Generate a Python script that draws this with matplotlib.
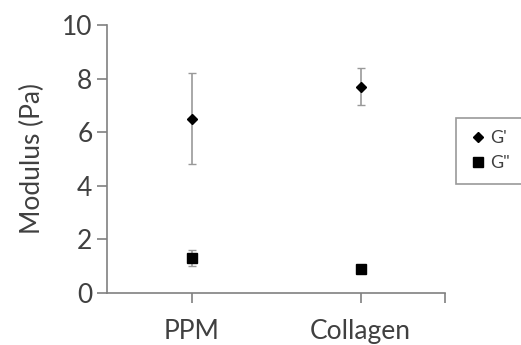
import matplotlib.pyplot as plt

categories = ["PPM", "Collagen"]
g_prime = [6.5, 7.7]
g_prime_err = [1.7, 0.7]
g_dprime = [1.3, 0.9]
g_dprime_err = [0.3, 0.1]

plt.rcParams['font.family'] = ['Lato', 'DejaVu Sans']

fig = plt.figure(figsize=(5.21, 3.45), dpi=100)
ax = fig.add_axes([107 / 521, 1 - 293 / 345, (445 - 107) / 521, (293 - 25) / 345])

x = [1, 2]
ax.errorbar(x, g_prime, yerr=g_prime_err, fmt='none', ecolor='#999999',
            elinewidth=1.2, capsize=3, capthick=1)
ax.errorbar(x, g_dprime, yerr=g_dprime_err, fmt='none', ecolor='#999999',
            elinewidth=1.2, capsize=3, capthick=1)
ax.plot(x, g_prime, 'D', color='black', markersize=5, label="G'")
ax.plot(x, g_dprime, 's', color='black', markersize=7, label='G"')

ax.set_xlim(0.5, 2.5)
ax.set_ylim(0, 10)
ax.set_yticks([0, 2, 4, 6, 8, 10])
ax.set_xticks([1, 2, 2.5])
ax.set_xticklabels(categories + [""])

for side in ['top', 'right']:
    ax.spines[side].set_visible(False)
for side in ['left', 'bottom']:
    ax.spines[side].set_color('#808080')
    ax.spines[side].set_linewidth(1.2)
ax.tick_params(axis='both', colors='#808080', length=7, width=1.2, labelsize=19,
               labelcolor='#404040')
ax.tick_params(axis='x', pad=12)
ax.set_ylabel('Modulus (Pa)', fontsize=19, color='#404040', labelpad=12)

leg = ax.legend(loc='center left', bbox_to_anchor=(1.0, 0.53), fontsize=13,
                frameon=True, fancybox=False, edgecolor='#808080',
                handletextpad=0.2, handlelength=1.0, borderpad=0.7,
                labelspacing=0.5, borderaxespad=0.6)
leg.get_frame().set_linewidth(1.2)
for t in leg.get_texts():
    t.set_color('#404040')

fig.savefig('out.png', dpi=100)
